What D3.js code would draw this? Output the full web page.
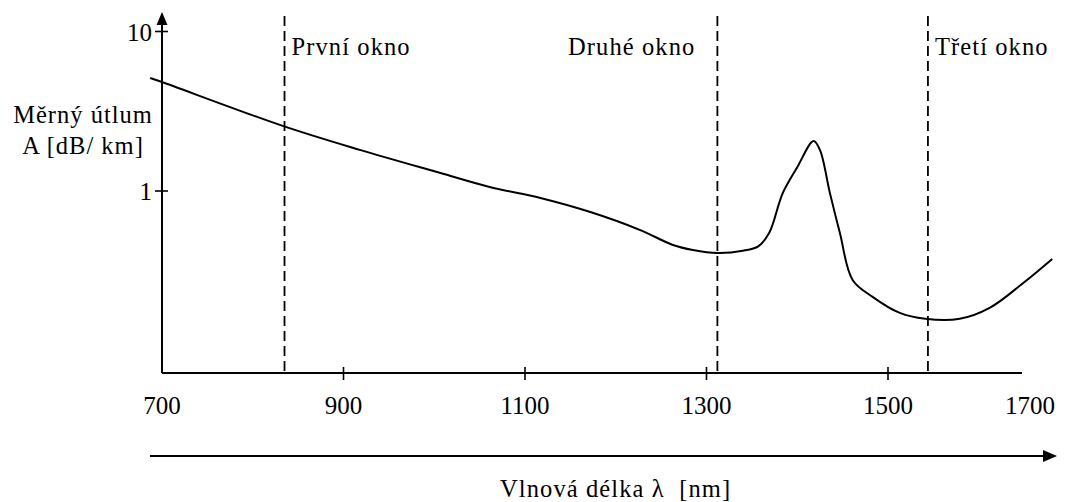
<!DOCTYPE html>
<html><head><meta charset="utf-8">
<script src="https://cdn.jsdelivr.net/npm/d3@7"></script>
<style>
html,body{margin:0;padding:0;background:#fff;}
</style></head>
<body><svg id="c" width="1066" height="502" font-family="Liberation Serif, DejaVu Serif, serif"></svg>
<script>
// Data
const wavelengths = [687, 700, 833, 918, 1006, 1061, 1117, 1172, 1227, 1263, 1285, 1312, 1340, 1357, 1369, 1384, 1400, 1418, 1425, 1436, 1447, 1461, 1483, 1513, 1541, 1579, 1612, 1649, 1681];
const attenuation = [5.11, 4.82, 2.56, 1.81, 1.30, 1.06, 0.904, 0.738, 0.569, 0.459, 0.427, 0.409, 0.422, 0.450, 0.545, 0.97, 1.41, 2.06, 1.81, 0.97, 0.545, 0.277, 0.217, 0.172, 0.158, 0.158, 0.185, 0.265, 0.375];
const xTickValues = [900, 1100, 1300, 1500];
const xTickLabels = ["700", "900", "1100", "1300", "1500", "1700"];
const yTickValues = [10, 1];
const yTickLabels = ["10", "1"];
const windowNm = [835, 1312, 1544];
const windowLabels = ["První okno", "Druhé okno", "Třetí okno"];
const yTitle = ["Měrný útlum", "A [dB/ km]"];
const xTitle = "Vlnová délka λ  [nm]";

const FONT = "Liberation Serif";
const svg = d3.select("#c");
const x = d3.scaleLinear().domain([700, 1500]).range([162, 888]);
const y = d3.scaleLog().domain([1, 10]).range([191, 31.5]);
const yBottom = 373, xEnd = 1022, yTop = 12;

// dashed window lines
svg.selectAll("line.win").data(windowNm).join("line")
  .attr("x1", d => x(d)).attr("x2", d => x(d))
  .attr("y1", 16).attr("y2", yBottom)
  .attr("stroke", "#000").attr("stroke-width", 1.8).attr("stroke-dasharray", "10,5");

// window labels
svg.selectAll("text.win").data(windowLabels).join("text")
  .attr("font-family", FONT)
  .attr("x", (d, i) => i === 1 ? x(windowNm[i]) - 22 : x(windowNm[i]) + 7)
  .attr("y", 55)
  .attr("text-anchor", (d, i) => i === 1 ? "end" : "start")
  .attr("font-size", 24.5).attr("letter-spacing", 1.1)
  .text(d => d);

// axes
svg.append("line").attr("x1", x(700)).attr("x2", x(700)).attr("y1", yBottom).attr("y2", yTop + 12)
  .attr("stroke", "#000").attr("stroke-width", 2);
svg.append("path").attr("d", `M${x(700)},${yTop} L${x(700) - 5.5},${yTop + 13} L${x(700) + 5.5},${yTop + 13} Z`).attr("fill", "#000");
svg.append("line").attr("x1", x(700)).attr("x2", xEnd).attr("y1", yBottom).attr("y2", yBottom)
  .attr("stroke", "#000").attr("stroke-width", 2);

// x ticks
svg.selectAll("line.xt").data(xTickValues).join("line")
  .attr("x1", d => x(d)).attr("x2", d => x(d)).attr("y1", yBottom - 6).attr("y2", yBottom + 7)
  .attr("stroke", "#000").attr("stroke-width", 1.6);
const xLabelVals = xTickLabels.map(Number);
svg.selectAll("text.xl").data(xTickLabels).join("text")
  .attr("font-family", FONT)
  .attr("x", (d, i) => Math.min(x(xLabelVals[i]), xEnd + 8))
  .attr("y", 414).attr("text-anchor", "middle").attr("font-size", 25)
  .text(d => d);

// y ticks
svg.selectAll("line.yt").data(yTickValues).join("line")
  .attr("x1", x(700) - 7).attr("x2", x(700) + 6).attr("y1", d => y(d)).attr("y2", d => y(d))
  .attr("stroke", "#000").attr("stroke-width", 1.6);
svg.selectAll("text.yl").data(yTickLabels).join("text")
  .attr("font-family", FONT)
  .attr("x", 152).attr("y", (d, i) => y(yTickValues[i]) + 9)
  .attr("text-anchor", "end").attr("font-size", 25)
  .text(d => d);

// y title
svg.selectAll("text.yt").data(yTitle).join("text")
  .attr("font-family", FONT)
  .attr("x", 83).attr("y", (d, i) => 123 + i * 31)
  .attr("text-anchor", "middle").attr("font-size", 24.5).attr("letter-spacing", 1)
  .text(d => d);

// curve
const pts = wavelengths.map((w, i) => [w, attenuation[i]]);
svg.append("path").datum(pts)
  .attr("d", d3.line().x(d => x(d[0])).y(d => y(d[1])).curve(d3.curveCatmullRom.alpha(0.5)))
  .attr("fill", "none").attr("stroke", "#000").attr("stroke-width", 2);

// bottom arrow
svg.append("line").attr("x1", 150).attr("x2", 1045).attr("y1", 456).attr("y2", 456)
  .attr("stroke", "#000").attr("stroke-width", 2);
svg.append("path").attr("d", "M1057,456 L1043,450 L1043,462 Z").attr("fill", "#000");

svg.append("text").attr("font-family", FONT).attr("x", 500).attr("y", 497).attr("font-size", 24.5).attr("letter-spacing", 1.1)
  .style("white-space", "pre")
  .text(xTitle);
</script></body></html>
